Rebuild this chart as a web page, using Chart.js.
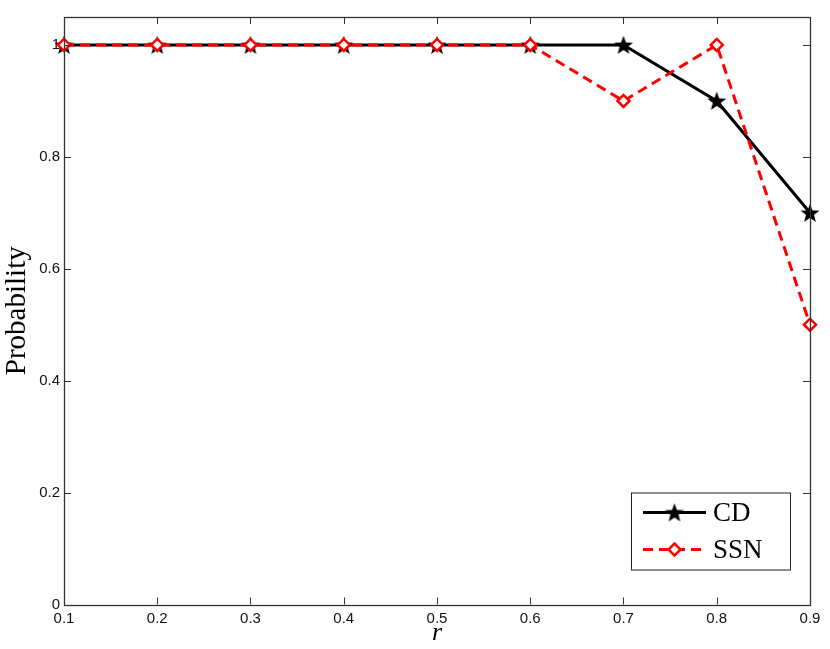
<!DOCTYPE html>
<html>
<head>
<meta charset="utf-8">
<script src="https://cdn.jsdelivr.net/npm/chart.js@4"></script>
<style>
  html, body { margin: 0; padding: 0; background: #fff; }
  #wrap { width: 830px; height: 649px; }
</style>
</head>
<body>
<div id="wrap"><canvas id="c" width="830" height="649"></canvas></div>
<script>
const rValues = [0.1, 0.2, 0.3, 0.4, 0.5, 0.6, 0.7, 0.8, 0.9];
const cdProb = [1, 1, 1, 1, 1, 1, 1, 0.9, 0.7];
const ssnProb = [1, 1, 1, 1, 1, 1, 0.9, 1, 0.5];
const seriesNames = ['CD', 'SSN'];

// filled five point star as marker
function makeStar(size, color) {
  const cv = document.createElement('canvas');
  cv.width = size; cv.height = size;
  const g = cv.getContext('2d');
  const cx = size / 2, cy = size / 2 + 0.8, R = size / 2, r = R * 0.42;
  g.beginPath();
  for (let i = 0; i < 10; i++) {
    const rad = i % 2 === 0 ? R : r;
    const a = -Math.PI / 2 + i * Math.PI / 5;
    const x = cx + rad * Math.cos(a), y = cy + rad * Math.sin(a);
    if (i === 0) g.moveTo(x, y); else g.lineTo(x, y);
  }
  g.closePath();
  g.fillStyle = color;
  g.fill();
  return cv;
}
const star = makeStar(20, '#000');

const toXY = (ys) => ys.map((y, i) => ({ x: rValues[i], y: y }));

// inward ticks on all four sides + box, like matlab
const boxTicks = {
  id: 'boxTicks',
  afterDatasetsDraw(chart) {
    const { ctx, chartArea: a, scales } = chart;
    ctx.save();
    ctx.strokeStyle = '#333';
    ctx.lineWidth = 1;
    ctx.beginPath();
    scales.x.ticks.forEach(t => {
      const px = Math.round(scales.x.getPixelForValue(t.value)) + 0.5;
      ctx.moveTo(px, a.bottom); ctx.lineTo(px, a.bottom - 7);
      ctx.moveTo(px, a.top); ctx.lineTo(px, a.top + 7);
    });
    scales.y.ticks.forEach(t => {
      const py = Math.round(scales.y.getPixelForValue(t.value)) + 0.5;
      ctx.moveTo(a.left, py); ctx.lineTo(a.left + 7, py);
      ctx.moveTo(a.right, py); ctx.lineTo(a.right - 7, py);
    });
    ctx.stroke();
    ctx.lineWidth = 1.3;
    ctx.strokeRect(Math.round(a.left) + 0.5, Math.round(a.top) + 0.5,
      Math.round(a.right - a.left), Math.round(a.bottom - a.top));
    ctx.restore();
  }
};

// legend box inside bottom right
const boxLegend = {
  id: 'boxLegend',
  afterDraw(chart) {
    const { ctx, chartArea: a } = chart;
    const w = 159, h = 77;
    const x0 = a.right - 20 - w, y0 = a.bottom - 35 - h;
    ctx.save();
    ctx.fillStyle = '#fff';
    ctx.fillRect(x0, y0, w, h);
    ctx.strokeStyle = '#222';
    ctx.lineWidth = 1;
    ctx.strokeRect(x0 + 0.5, y0 + 0.5, w, h);
    chart.data.datasets.forEach((ds, i) => {
      const y = y0 + 20 + i * 37;
      ctx.strokeStyle = ds.borderColor;
      ctx.lineWidth = ds.borderWidth;
      ctx.setLineDash(ds.borderDash || []);
      ctx.beginPath();
      ctx.moveTo(x0 + 12, y); ctx.lineTo(x0 + 75, y);
      ctx.stroke();
      ctx.setLineDash([]);
      const mx = x0 + 43.5;
      if (ds.pointStyle === star) {
        ctx.drawImage(star, mx - 10, y - 10);
      } else {
        const rr = ds.pointRadius;
        ctx.beginPath();
        ctx.moveTo(mx, y - rr); ctx.lineTo(mx + rr, y);
        ctx.lineTo(mx, y + rr); ctx.lineTo(mx - rr, y);
        ctx.closePath();
        ctx.fillStyle = ds.pointBackgroundColor;
        ctx.fill();
        ctx.lineWidth = ds.pointBorderWidth;
        ctx.strokeStyle = ds.pointBorderColor;
        ctx.stroke();
      }
      ctx.fillStyle = '#000';
      ctx.font = '27px "Liberation Serif", serif';
      ctx.textBaseline = 'middle';
      ctx.fillText(ds.label, x0 + 82, y + 1);
    });
    ctx.restore();
  }
};

new Chart(document.getElementById('c'), {
  type: 'line',
  data: {
    datasets: [
      {
        label: seriesNames[0], data: toXY(cdProb),
        borderColor: '#000', borderWidth: 3,
        pointStyle: star, pointRadius: 10,
        clip: false, order: 1
      },
      {
        label: seriesNames[1], data: toXY(ssnProb),
        borderColor: '#ff0000', borderWidth: 3, borderDash: [10, 6],
        pointStyle: 'rectRot', pointRadius: 6, pointBorderWidth: 2.5,
        pointBackgroundColor: '#fff', pointBorderColor: '#ff0000',
        clip: false, order: 0
      }
    ]
  },
  options: {
    responsive: false,
    animation: false,
    layout: { padding: { top: 17, right: 20, left: 0, bottom: 0 } },
    plugins: { legend: { display: false }, tooltip: { enabled: false } },
    elements: { line: { tension: 0 } },
    scales: {
      x: {
        type: 'linear', min: 0.1, max: 0.9,
        ticks: {
          stepSize: 0.1, padding: 5, color: '#111',
          font: { family: '"Liberation Sans", Arial, sans-serif', size: 15 },
          callback: v => String(+v.toFixed(1)), maxRotation: 0
        },
        grid: { display: false, drawTicks: false },
        border: { display: false },
        title: {
          display: true, text: 'r', color: '#000', padding: { top: -6, bottom: 0 },
          font: { family: '"Liberation Serif", serif', size: 26, style: 'italic' }
        },
        afterFit(s) { s.height = 44.5; }
      },
      y: {
        type: 'linear', min: 0, max: 1.05,
        afterBuildTicks(s) { s.ticks = s.ticks.filter(t => t.value <= 1.0001); },
        ticks: {
          stepSize: 0.2, includeBounds: false, padding: 4, color: '#111',
          font: { family: '"Liberation Sans", Arial, sans-serif', size: 15 },
          callback: v => String(+v.toFixed(1))
        },
        grid: { display: false, drawTicks: false },
        border: { display: false },
        title: {
          display: true, text: 'Probability', color: '#000', padding: { top: 0, bottom: 6 },
          font: { family: '"Liberation Serif", serif', size: 29 }
        },
        afterFit(s) { s.width = 64; }
      }
    }
  },
  plugins: [boxTicks, boxLegend]
});
</script>
</body>
</html>
